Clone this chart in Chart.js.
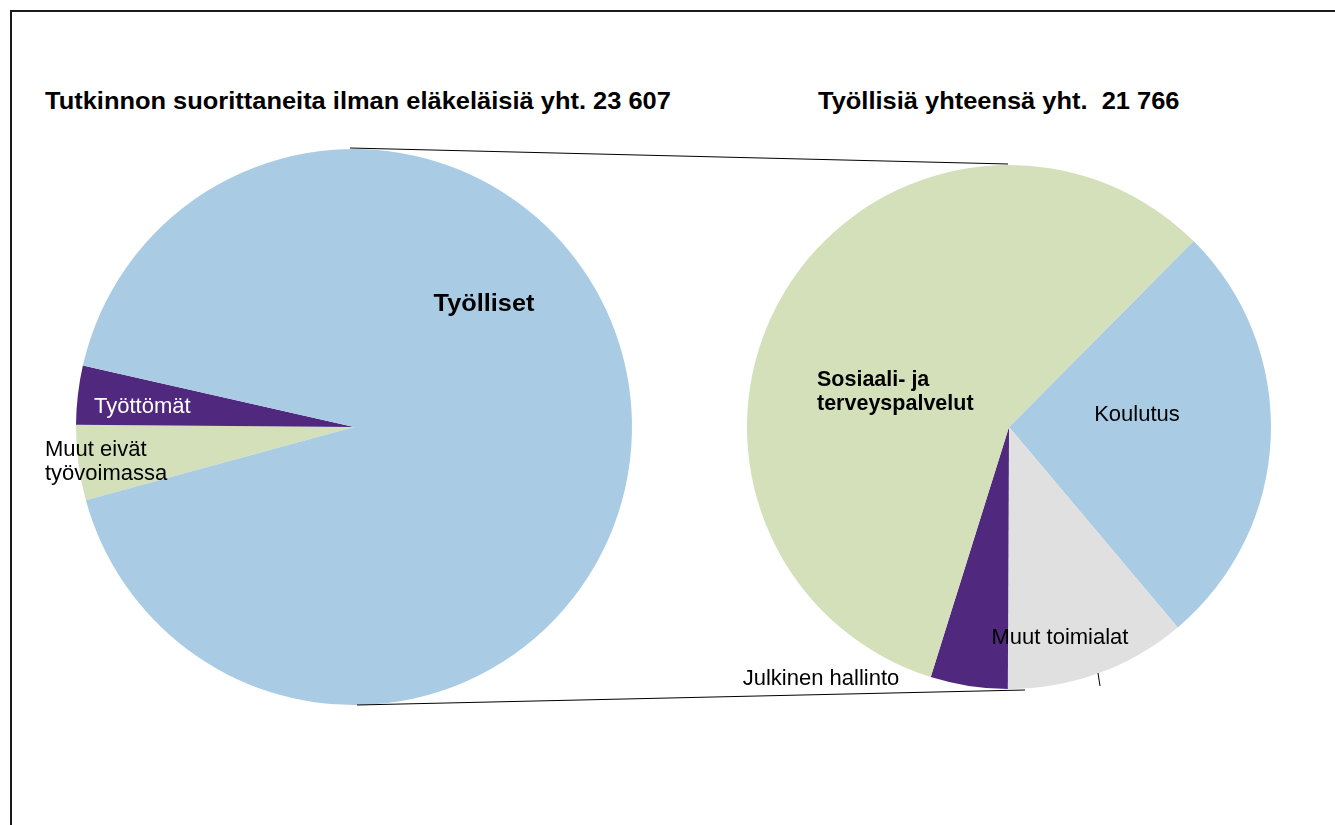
<!DOCTYPE html>
<html lang="fi">
<head>
  <meta charset="UTF-8">
  <title>Tutkinnon suorittaneet ja työlliset</title>
  <style>
    * { margin: 0; padding: 0; box-sizing: border-box; }
    body {
      width: 1335px;
      height: 825px;
      overflow: hidden;
      background: #fff;
      font-family: "Liberation Sans", Arial, sans-serif;
      position: relative;
    }
    /* frame of the original sheet */
    .frame {
      position: absolute;
      left: 10px;
      top: 10px;
      width: 1400px;
      height: 900px;
      border-left: 2px solid #1a1a1a;
      border-top: 2px solid #1a1a1a;
    }
    .title {
      position: absolute;
      font-weight: bold;
      font-size: 24px;
      line-height: 30px;
      color: #000;
      white-space: pre;
      transform: scaleX(1.06);
      transform-origin: 0 0;
    }
    canvas {
      position: absolute;
      left: 0;
      top: 0;
    }
  </style>
  <script src="https://cdn.jsdelivr.net/npm/chart.js"></script>
</head>
<body>
  <div class="frame"></div>
  <div class="title" style="left:45px; top:86px;">Tutkinnon suorittaneita ilman eläkeläisiä yht. 23 607</div>
  <div class="title" style="left:818px; top:86px;">Työllisiä yhteensä yht.  21 766</div>

  <canvas id="mainPie" width="1335" height="825"></canvas>
  <canvas id="subPie" width="1335" height="825"></canvas>

  <script>
    // Left pie: all graduates (without pensioners)
    const mainLabels = ['Muut eivät työvoimassa', 'Työttömät', 'Työlliset'];
    const mainValues = [1035, 806, 21766];
    const mainColors = ['#d3e0b9', '#50287d', '#a9cce4'];

    // Right pie: employed by sector
    const subLabels = ['Koulutus', 'Muut toimialat', 'Julkinen hallinto', 'Sosiaali- ja terveyspalvelut'];
    const subValues = [5750, 2440, 1035, 12541];
    const subColors = ['#a9cce4', '#e0e0e0', '#50287d', '#d3e0b9'];

    const FONT = '"Liberation Sans", Arial, sans-serif';

    // label placement relative to the pie centre (dx, dy), one entry per slice
    const mainLabelPos = [
      { lines: ['Muut eivät', 'työvoimassa'], dx: -309, dy: 23, align: 'left', color: '#000', font: '22px' },
      { lines: ['Työttömät'], dx: -260, dy: -20, align: 'left', color: '#fff', font: '22px' },
      { lines: ['Työlliset'], dx: 130, dy: -122, align: 'center', color: '#000', font: 'bold 23px', sx: 1.1 }
    ];
    const subLabelPos = [
      { lines: ['Koulutus'], dx: 128, dy: -12, align: 'center', color: '#000', font: '22px' },
      { lines: ['Muut toimialat'], dx: 51, dy: 211, align: 'center', color: '#000', font: '22px' },
      { lines: ['Julkinen hallinto'], dx: -188, dy: 252, align: 'center', color: '#000', font: '22px' },
      { lines: ['Sosiaali- ja', 'terveyspalvelut'], dx: -192, dy: -47, align: 'left', color: '#000', font: 'bold 21.5px' }
    ];

    function sliceLabels(positions) {
      return {
        id: 'sliceLabels',
        afterDatasetsDraw(chart) {
          const arc = chart.getDatasetMeta(0).data[0];
          const ctx = chart.ctx;
          positions.forEach(p => {
            p.lines.forEach((line, i) => {
              ctx.save();
              ctx.font = p.font + ' ' + FONT;
              ctx.fillStyle = p.color;
              ctx.textAlign = p.align;
              ctx.textBaseline = 'middle';
              ctx.translate(arc.x + p.dx, arc.y + p.dy + i * 24);
              ctx.scale(p.sx || 1, 1);
              ctx.fillText(line, 0, 0);
              ctx.restore();
            });
          });
        }
      };
    }

    function pieOptions(rotation, padding) {
      return {
        responsive: false,
        animation: false,
        events: [],
        rotation: rotation,
        layout: { padding: padding },
        plugins: {
          legend: { display: false },
          tooltip: { enabled: false }
        }
      };
    }

    const mainChart = new Chart(document.getElementById('mainPie').getContext('2d'), {
      type: 'pie',
      data: {
        labels: mainLabels,
        datasets: [{ data: mainValues, backgroundColor: mainColors, borderWidth: 0 }]
      },
      options: pieOptions(254.7, { left: 76, right: 703, top: 149, bottom: 120 }),
      plugins: [sliceLabels(mainLabelPos)]
    });

    // connector lines between the two pies, plus the small leader mark
    const connectors = {
      id: 'connectors',
      afterDatasetsDraw(chart) {
        const a = mainChart.getDatasetMeta(0).data[0];
        const b = chart.getDatasetMeta(0).data[0];
        const ctx = chart.ctx;
        ctx.save();
        ctx.strokeStyle = '#000';
        ctx.lineWidth = 1;
        ctx.beginPath();
        ctx.moveTo(a.x - 4, a.y - a.outerRadius - 1);
        ctx.lineTo(b.x - 1, b.y - b.outerRadius - 1);
        ctx.moveTo(a.x + 3, a.y + a.outerRadius);
        ctx.lineTo(b.x + 16, b.y + b.outerRadius + 1);
        ctx.moveTo(b.x + 89, b.y + 246);
        ctx.lineTo(b.x + 91, b.y + 259);
        ctx.stroke();
        ctx.restore();
      }
    };

    new Chart(document.getElementById('subPie').getContext('2d'), {
      type: 'pie',
      data: {
        labels: subLabels,
        datasets: [{ data: subValues, backgroundColor: subColors, borderWidth: 0 }]
      },
      options: pieOptions(44.8, { left: 747, right: 64, top: 165, bottom: 136 }),
      plugins: [connectors, sliceLabels(subLabelPos)]
    });
  </script>
</body>
</html>
